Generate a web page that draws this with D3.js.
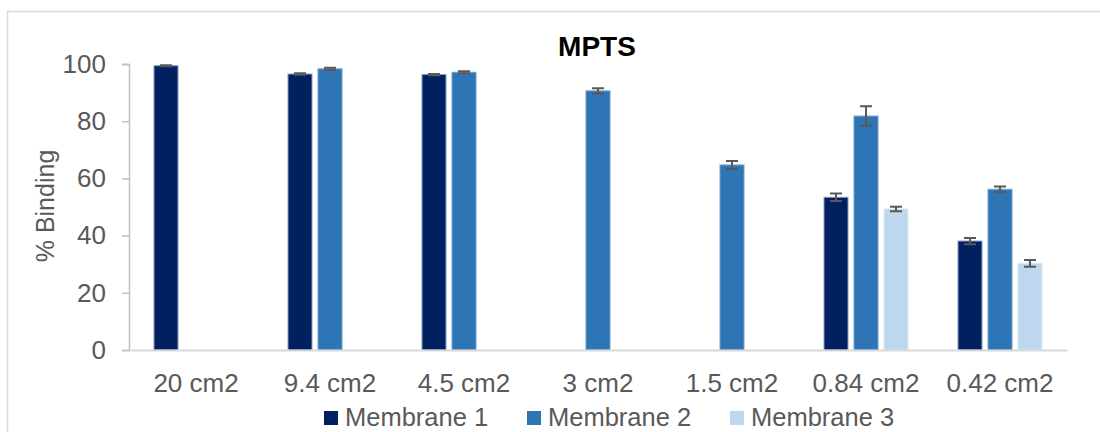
<!DOCTYPE html>
<html>
<head>
<meta charset="utf-8">
<script src="https://cdn.jsdelivr.net/npm/d3@7"></script>
<style>
  html, body { margin: 0; padding: 0; background: #fff; }
  svg { display: block; font-family: "Liberation Sans", Arial, sans-serif; }
</style>
</head>
<body>
<svg id="chart" width="1100" height="432"></svg>
<script>
// Surface areas tested
const categories = ["20 cm2", "9.4 cm2", "4.5 cm2", "3 cm2", "1.5 cm2", "0.84 cm2", "0.42 cm2"];
const seriesNames = ["Membrane 1", "Membrane 2", "Membrane 3"];

// Mean % binding per membrane (null = not measured)
const membrane1 = [99.4, 96.5, 96.3, null, null, 53.4, 38.1];
const membrane2 = [null, 98.3, 97.1, 90.6, 64.7, 81.8, 56.2];
const membrane3 = [null, null, null, null, null, 49.3, 30.3];

// Standard deviation for each mean
const membrane1Err = [0.2, 0.3, 0.2, null, null, 1.3, 1.1];
const membrane2Err = [null, 0.4, 0.4, 0.9, 1.4, 3.4, 1.0];
const membrane3Err = [null, null, null, null, null, 0.8, 1.2];

const yTicks = [0, 20, 40, 60, 80, 100];
const colors = ["#002060", "#2e75b6", "#bdd7ee"];
const edgeColors = ["#8a9cc0", "#6fa0cf", "#dbe9f6"];

const values = [membrane1, membrane2, membrane3];
const errors = [membrane1Err, membrane2Err, membrane3Err];

const labelSize = 26;

const svg = d3.select("#chart");

// Outer chart frame
svg.append("rect")
  .attr("x", 7.5).attr("y", 11.5)
  .attr("width", 1200).attr("height", 500)
  .attr("fill", "none").attr("stroke", "#d9d9d9").attr("stroke-width", 1.5);

const plot = { left: 129, right: 1067, top: 64, bottom: 350 };

const x = d3.scaleBand().domain(categories).range([plot.left, plot.right]).padding(0);
const xInner = d3.scaleBand().domain(seriesNames).range([-45, 45])
  .paddingInner(0.2).paddingOuter(0.1);
const y = d3.scaleLinear().domain([0, 100]).range([plot.bottom, plot.top]);

// Title
svg.append("text")
  .attr("x", 597).attr("y", 56)
  .attr("text-anchor", "middle")
  .attr("font-size", 28).attr("font-weight", "bold").attr("fill", "#000")
  .text("MPTS");

// Y axis
const yAxis = svg.append("g")
  .attr("transform", `translate(${plot.left},0)`)
  .call(d3.axisLeft(y).tickValues(yTicks).tickSize(7).tickPadding(16));
yAxis.select(".domain").attr("stroke", "#bfbfbf").attr("stroke-width", 1.5);
yAxis.selectAll(".tick line").attr("stroke", "#bfbfbf").attr("stroke-width", 1.5);
yAxis.selectAll(".tick text")
  .attr("font-size", labelSize).attr("fill", "#595959")
  .attr("font-family", "Liberation Sans, Arial, sans-serif");

// Y axis title
svg.append("text")
  .attr("transform", "translate(54,206) rotate(-90)")
  .attr("text-anchor", "middle")
  .attr("font-size", 25).attr("fill", "#595959")
  .text("% Binding");

// Bars, one per measured membrane within each area group
const flat = [];
categories.forEach((c, ci) => {
  seriesNames.forEach((s, si) => {
    const v = values[si][ci];
    if (v !== null) flat.push({ cat: c, series: s, si, value: v, err: errors[si][ci] });
  });
});

const barG = svg.append("g");
barG.selectAll("rect")
  .data(flat)
  .join("rect")
  .attr("x", d => x(d.cat) + x.bandwidth() / 2 + xInner(d.series))
  .attr("y", d => y(d.value))
  .attr("width", xInner.bandwidth())
  .attr("height", d => y(0) - y(d.value))
  .attr("fill", d => colors[d.si])
  .attr("stroke", d => edgeColors[d.si])
  .attr("stroke-width", 1);

// X axis
const xAxis = svg.append("g")
  .attr("transform", `translate(0,${plot.bottom})`)
  .call(d3.axisBottom(x).tickSize(0).tickPadding(24));
xAxis.select(".domain").attr("stroke", "#d9d9d9").attr("stroke-width", 2);
xAxis.selectAll(".tick text")
  .attr("font-size", labelSize).attr("fill", "#595959")
  .attr("font-family", "Liberation Sans, Arial, sans-serif");

// Error bars
const errG = svg.append("g").attr("stroke", "#595959").attr("stroke-width", 2).attr("fill", "none");
const cx = d => x(d.cat) + x.bandwidth() / 2 + xInner(d.series) + xInner.bandwidth() / 2;
errG.selectAll("path")
  .data(flat)
  .join("path")
  .attr("d", d => {
    const c = cx(d), hi = y(d.value + d.err), lo = y(d.value - d.err), w = 6;
    return `M${c - w},${hi}H${c + w}M${c},${hi}V${lo}M${c - w},${lo}H${c + w}`;
  });

// Legend along the bottom edge
const legend = svg.append("g").selectAll("g")
  .data(seriesNames)
  .join("g")
  .attr("transform", (d, i) => `translate(${324 + i * 203},0)`);
legend.append("rect")
  .attr("x", 0).attr("y", 411).attr("width", 14).attr("height", 14)
  .attr("fill", (d, i) => colors[i]);
legend.append("text")
  .attr("x", 21).attr("y", 425.5)
  .attr("font-size", 25.5).attr("fill", "#595959")
  .text(d => d);
</script>
</body>
</html>
